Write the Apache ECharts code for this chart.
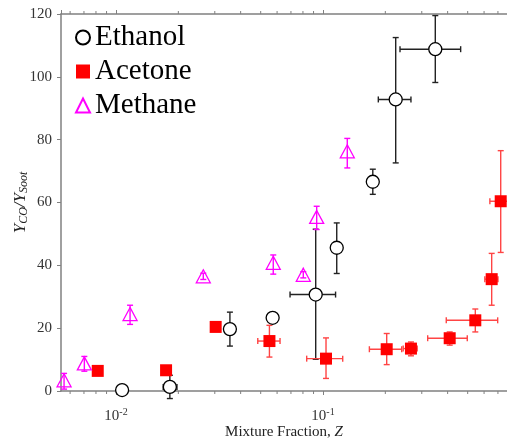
<!DOCTYPE html>
<html>
<head>
<meta charset="utf-8">
<script src="https://cdn.jsdelivr.net/npm/echarts@6/dist/echarts.min.js"></script>
<style>
  html, body { margin: 0; padding: 0; background: #fff; }
  #chart { width: 507px; height: 440px; }
</style>
</head>
<body>
<div id="chart"></div>
<script>
// [Z, value, Zlo, Zhi, lo, hi]
var ethanol = [
  [0.0107, 0.3, 0.0102, 0.0112, 0.3, 0.3],
  [0.0182, 1.3, 0.0169, 0.0197, -2.4, 5.0],
  [0.0355, 19.7, 0.0355, 0.0355, 14.3, 25.1],
  [0.0571, 23.3, 0.0571, 0.0571, 23.3, 23.3],
  [0.0922, 30.7, 0.0693, 0.115, 10.1, 51.5],
  [0.1165, 45.6, 0.1165, 0.1165, 37.4, 53.5],
  [0.174, 66.6, 0.174, 0.174, 62.6, 70.6],
  [0.2245, 92.8, 0.185, 0.266, 72.6, 112.5],
  [0.3487, 108.8, 0.2355, 0.4624, 98.2, 119.5]
];
var acetone = [
  [0.00816, 6.4, 0.00816, 0.00816, 6.4, 6.4],
  [0.01745, 6.6, 0.01745, 0.01745, 6.6, 6.6],
  [0.0303, 20.4, 0.0303, 0.0303, 20.4, 20.4],
  [0.0551, 15.9, 0.0484, 0.062, 10.8, 20.9],
  [0.1034, 10.3, 0.0834, 0.1245, 4.0, 16.9],
  [0.2031, 13.3, 0.1675, 0.240, 8.4, 18.3],
  [0.266, 13.5, 0.244, 0.285, 11.2, 15.6],
  [0.4093, 16.8, 0.3204, 0.4977, 14.6, 18.8],
  [0.5442, 22.5, 0.394, 0.698, 18.8, 26.1],
  [0.653, 35.6, 0.605, 0.70, 27.3, 43.8],
  [0.722, 60.4, 0.64, 0.80, 44.1, 76.5]
];
var methane = [
  [0.00561, 3.4, 0.00561, 0.00561, 0.6, 5.6],
  [0.00703, 8.8, 0.00703, 0.00703, 6.3, 11.0],
  [0.01169, 24.5, 0.01169, 0.01169, 21.2, 27.3],
  [0.0264, 36.5, 0.0264, 0.0264, 35.5, 37.5],
  [0.0575, 40.8, 0.0575, 0.0575, 37.2, 43.3],
  [0.0803, 37.0, 0.0803, 0.0803, 36.0, 38.0],
  [0.0932, 55.4, 0.0932, 0.0932, 51.4, 58.8],
  [0.131, 76.3, 0.131, 0.131, 71.0, 80.4]
];
var minorTicks = [0.006, 0.007, 0.008, 0.009, 0.02, 0.03, 0.04, 0.05, 0.06, 0.07, 0.08, 0.09,
  0.2, 0.3, 0.4, 0.5, 0.6, 0.7];
var yTicks = [0, 20, 40, 60, 80, 100, 120];

var serif = 'Liberation Serif';
var axisGray = '#808080';

function errorBars(color, cap) {
  return function (params, api) {
    var x = api.value(0), y = api.value(1);
    var xlo = api.value(2), xhi = api.value(3), ylo = api.value(4), yhi = api.value(5);
    var style = { stroke: color, lineWidth: 1.4 };
    var kids = [];
    if (yhi > ylo) {
      var a = api.coord([x, ylo]), b = api.coord([x, yhi]);
      kids.push({ type: 'line', shape: { x1: a[0], y1: a[1], x2: b[0], y2: b[1] }, style: style });
      kids.push({ type: 'line', shape: { x1: a[0] - cap, y1: a[1], x2: a[0] + cap, y2: a[1] }, style: style });
      kids.push({ type: 'line', shape: { x1: b[0] - cap, y1: b[1], x2: b[0] + cap, y2: b[1] }, style: style });
    }
    if (xhi > xlo) {
      var c = api.coord([xlo, y]), d = api.coord([xhi, y]);
      kids.push({ type: 'line', shape: { x1: c[0], y1: c[1], x2: d[0], y2: d[1] }, style: style });
      kids.push({ type: 'line', shape: { x1: c[0], y1: c[1] - cap, x2: c[0], y2: c[1] + cap }, style: style });
      kids.push({ type: 'line', shape: { x1: d[0], y1: d[1] - cap, x2: d[0], y2: d[1] + cap }, style: style });
    }
    return { type: 'group', children: kids };
  };
}

var chart = echarts.init(document.getElementById('chart'));
chart.setOption({
  animation: false,
  backgroundColor: '#fff',
  grid: { left: 61, right: 0, top: 14, bottom: 49, containLabel: false, outerBoundsMode: 'none' },
  legend: {
    data: ['Ethanol', 'Acetone', 'Methane'],
    orient: 'vertical',
    left: 70,
    top: 18,
    itemWidth: 14,
    itemHeight: 14,
    itemGap: 5,
    textStyle: { fontFamily: serif, fontSize: 29, color: '#000', lineHeight: 28 }
  },
  xAxis: [{
    type: 'log',
    min: 0.005422,
    max: 0.7743,
    position: 'bottom',
    name: 'Mixture Fraction, {i|Z}',
    nameLocation: 'middle',
    nameGap: 34,
    nameMoveOverlap: false,
    nameTextStyle: {
      fontFamily: serif, fontSize: 15, color: '#222',
      rich: { i: { fontFamily: serif, fontSize: 15, fontStyle: 'italic', color: '#222' } }
    },
    axisLine: { lineStyle: { color: axisGray, width: 1.5 } },
    axisTick: { show: true, inside: false, length: 4, lineStyle: { color: axisGray } },
    splitLine: { show: false },
    axisLabel: {
      margin: 16,
      showMinLabel: false,
      showMaxLabel: false,
      formatter: function (v) {
        var e = Math.log10(v);
        if (Math.abs(e - Math.round(e)) > 1e-6) return '';
        return '{b|10}{s|' + Math.round(e) + '}';
      },
      rich: {
        b: { fontFamily: serif, fontSize: 15, color: '#333' },
        s: { fontFamily: serif, fontSize: 10, color: '#333', padding: [0, 0, 9, 0] }
      }
    }
  }, {
    type: 'log',
    min: 0.005422,
    max: 0.7743,
    position: 'top',
    axisLine: { lineStyle: { color: axisGray, width: 1.5 } },
    axisTick: { show: true, inside: false, length: 4, lineStyle: { color: axisGray } },
    axisLabel: { show: false },
    splitLine: { show: false }
  }],
  yAxis: {
    type: 'value',
    min: yTicks[0],
    max: yTicks[yTicks.length - 1],
    interval: 20,
    name: '{v|Y}{sub|CO}{v|/Y}{sub|Soot}',
    nameLocation: 'middle',
    nameGap: 31,
    nameRotate: 90,
    nameMoveOverlap: false,
    nameTextStyle: {
      rich: {
        v: { fontFamily: serif, fontSize: 17, fontStyle: 'italic', color: '#222' },
        sub: { fontFamily: serif, fontSize: 12, fontStyle: 'italic', color: '#222', padding: [7, 0, 0, 0] }
      }
    },
    axisLine: { show: true, lineStyle: { color: axisGray, width: 1.5 } },
    axisTick: { show: true, inside: false, length: 4, lineStyle: { color: axisGray } },
    splitLine: { show: false },
    axisLabel: { fontFamily: serif, fontSize: 15, color: '#333', margin: 9 }
  },
  series: [
    {
      type: 'custom', silent: true, xAxisIndex: 0, z: 1,
      data: minorTicks.map(function (v) { return [v, 0]; }),
      renderItem: function (params, api) {
        var p = api.coord([api.value(0), 0]);
        var q = api.coord([api.value(0), 120]);
        var st = { stroke: axisGray, lineWidth: 1 };
        return { type: 'group', children: [
          { type: 'line', shape: { x1: p[0], y1: p[1], x2: p[0], y2: p[1] + 3 }, style: st },
          { type: 'line', shape: { x1: q[0], y1: q[1], x2: q[0], y2: q[1] - 3 }, style: st }
        ] };
      }
    },
    { type: 'custom', silent: true, z: 2, data: ethanol, renderItem: errorBars('#222', 3) },
    { type: 'custom', silent: true, z: 2, data: acetone, renderItem: errorBars('#ff4444', 3) },
    { type: 'custom', silent: true, z: 2, data: methane, renderItem: errorBars('#ff00ff', 3) },
    {
      name: 'Ethanol', type: 'scatter', z: 3, symbol: 'circle', symbolSize: 13,
      itemStyle: { color: '#fff', borderColor: '#000', borderWidth: 1.3, opacity: 1 },
      data: ethanol.map(function (d) { return [d[0], d[1]]; })
    },
    {
      name: 'Acetone', type: 'scatter', z: 3, symbol: 'rect', symbolSize: 12,
      itemStyle: { color: '#ff0000', opacity: 1 },
      data: acetone.map(function (d) { return [d[0], d[1]]; })
    },
    {
      name: 'Methane', type: 'scatter', z: 3, symbol: 'triangle', symbolSize: [14, 13],
      itemStyle: { color: 'rgba(255,255,255,0)', borderColor: '#ff00ff', borderWidth: 1.3, opacity: 1 },
      data: methane.map(function (d) { return [d[0], d[1]]; })
    }
  ]
});
</script>
</body>
</html>
